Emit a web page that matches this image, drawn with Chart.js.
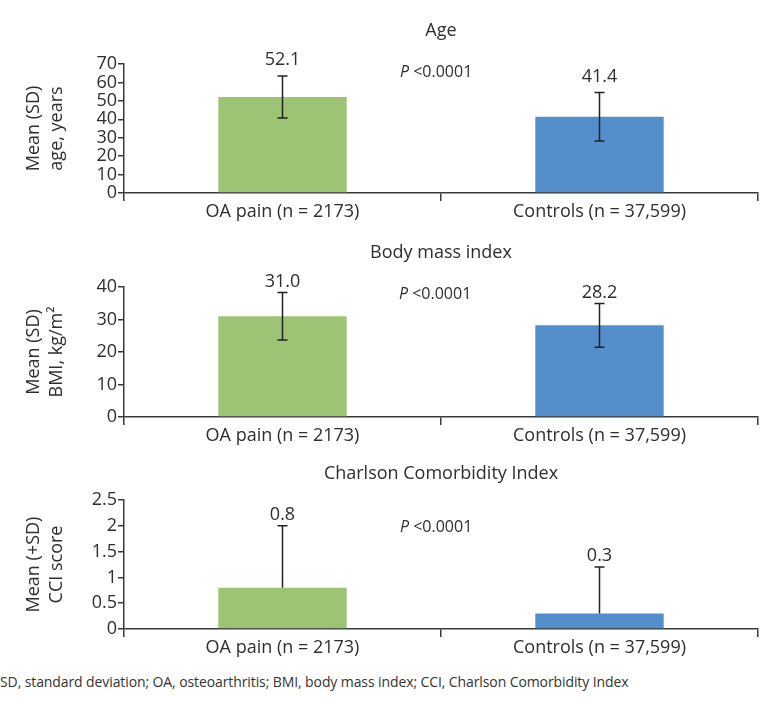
<!DOCTYPE html>
<html>
<head>
<meta charset="utf-8">
<script src="https://cdn.jsdelivr.net/npm/chart.js@4"></script>
<style>
  html, body { margin: 0; padding: 0; background: #fff; }
  #wrap { position: relative; width: 762px; height: 701px; overflow: hidden; }
  canvas { position: absolute; left: 0; }
  #foot { position: absolute; left: 0; top: 672px; font-family: 'Open Sans', sans-serif; font-size: 14px; color: #333; white-space: nowrap; letter-spacing: -0.1px; }
</style>
</head>
<body>
<div id="wrap">
  <canvas id="c1" width="762" height="225" style="top:0px"></canvas>
  <canvas id="c2" width="762" height="225" style="top:225px"></canvas>
  <canvas id="c3" width="762" height="211" style="top:450px"></canvas>
  <div id="foot">SD, standard deviation; OA, osteoarthritis; BMI, body mass index; CCI, Charlson Comorbidity Index</div>
</div>
<script>
// ---- data ----
const categories = ['OA pain (n = 2173)', 'Controls (n = 37,599)'];
const ageMeans = [52.1, 41.4];
const ageSD = [11.4, 13.2];
const bmiMeans = [31.0, 28.2];
const bmiSD = [7.3, 6.7];
const cciMeans = [0.8, 0.3];
const cciSD = [1.2, 0.9];
const ageTicks = [0, 10, 20, 30, 40, 50, 60, 70];
const bmiTicks = [0, 10, 20, 30, 40];
const cciTicks = ['0', '0.5', '1', '1.5', '2', '2.5'];
const barColors = ['#9DC374', '#548FCB'];
const pText = '<0.0001';

const FONT = "'Open Sans', sans-serif";
const TXT = '#2e2e2e';
const AX = '#3a3a3a';
const FS = 18;

const deco = {
  id: 'deco',
  afterDatasetsDraw(chart, args, o) {
    const ctx = chart.ctx, ca = chart.chartArea, ys = chart.scales.y;
    const meta = chart.getDatasetMeta(0);
    ctx.save();
    // title
    ctx.fillStyle = TXT;
    ctx.font = FS + 'px ' + FONT;
    ctx.textAlign = 'center';
    ctx.textBaseline = 'middle';
    ctx.fillText(o.title, (ca.left + ca.right) / 2, o.titleY);
    // y title (two rotated lines)
    const cy = (ca.top + ca.bottom) / 2;
    o.yTitle.forEach((t, i) => {
      ctx.save();
      ctx.translate(o.yTitleX[i], cy);
      ctx.rotate(-Math.PI / 2);
      ctx.fillText(t, 0, 0);
      ctx.restore();
    });
    // P value
    ctx.textAlign = 'left';
    ctx.font = 'italic 16px ' + FONT;
    ctx.fillText('P', o.pX, o.pY);
    const pw = ctx.measureText('P ').width;
    ctx.font = '16px ' + FONT;
    ctx.fillText(pText, o.pX + pw, o.pY);
    // error bars + labels
    ctx.strokeStyle = '#222';
    ctx.lineWidth = 1.5;
    o.means.forEach((m, i) => {
      const bar = meta.data[i];
      const x = bar.x;
      const top = ys.getPixelForValue(m + o.sds[i]);
      const bot = o.sym ? ys.getPixelForValue(m - o.sds[i]) : bar.y;
      ctx.beginPath();
      ctx.moveTo(x, top); ctx.lineTo(x, bot);
      ctx.moveTo(x - 5, top); ctx.lineTo(x + 5, top);
      if (o.sym) { ctx.moveTo(x - 5, bot); ctx.lineTo(x + 5, bot); }
      ctx.stroke();
      ctx.textAlign = 'center';
      ctx.font = FS + 'px ' + FONT;
      ctx.fillText(m.toFixed(1), x, top - o.labelOff);
    });
    ctx.restore();
  }
};

function makeChart(id, means, sds, maxV, step, tickFmt, padTop, padBottom, decoOpts) {
  return new Chart(document.getElementById(id), {
    type: 'bar',
    data: {
      labels: categories,
      datasets: [{ data: means, backgroundColor: barColors, borderWidth: 0,
                   barPercentage: 0.405, categoryPercentage: 1.0 }]
    },
    options: {
      responsive: false,
      animation: false,
      devicePixelRatio: 1,
      layout: { padding: { left: 0, right: 4, top: padTop, bottom: padBottom } },
      plugins: { legend: { display: false }, tooltip: { enabled: false }, deco: decoOpts },
      scales: {
        x: {
          grid: { display: true, offset: true, drawOnChartArea: false, drawTicks: true, tickLength: 8, color: AX, lineWidth: 1.5 },
          border: { display: true, color: AX, width: 1.5 },
          ticks: { color: TXT, font: { family: FONT, size: FS }, padding: 0, maxRotation: 0 },
          afterFit(s) { s.height = 32; }
        },
        y: {
          min: 0, max: maxV,
          grid: { display: true, drawOnChartArea: false, drawTicks: true, tickLength: 6, color: AX, lineWidth: 1.5 },
          border: { display: true, color: AX, width: 1.5 },
          ticks: { stepSize: step, autoSkip: false, color: TXT, font: { family: FONT, size: FS, lineHeight: 1 }, padding: 1,
                   callback: tickFmt },
          afterFit(s) { s.width = 124; }
        }
      }
    },
    plugins: [deco]
  });
}

makeChart('c1', ageMeans, ageSD, 70, 10, (v, i) => String(ageTicks[i]), 64, 0, {
  title: 'Age', titleY: 31, yTitle: ['Mean (SD)', 'age, years'], yTitleX: [34, 57],
  pX: 400, pY: 72, means: ageMeans, sds: ageSD, sym: true, labelOff: 16
});
makeChart('c2', bmiMeans, bmiSD, 40, 10, (v, i) => String(bmiTicks[i]), 62, 1, {
  title: 'Body mass index', titleY: 28, yTitle: ['Mean (SD)', 'BMI, kg/m\u00B2'], yTitleX: [34, 57],
  pX: 399, pY: 69, means: bmiMeans, sds: bmiSD, sym: true, labelOff: 11
});
makeChart('c3', cciMeans, cciSD, 2.5, 0.5, (v, i) => cciTicks[i], 50, 0, {
  title: 'Charlson Comorbidity Index', titleY: 24, yTitle: ['Mean (+SD)', 'CCI score'], yTitleX: [34, 57],
  pX: 400, pY: 77, means: cciMeans, sds: cciSD, sym: false, labelOff: 11
});
</script>
</body>
</html>
